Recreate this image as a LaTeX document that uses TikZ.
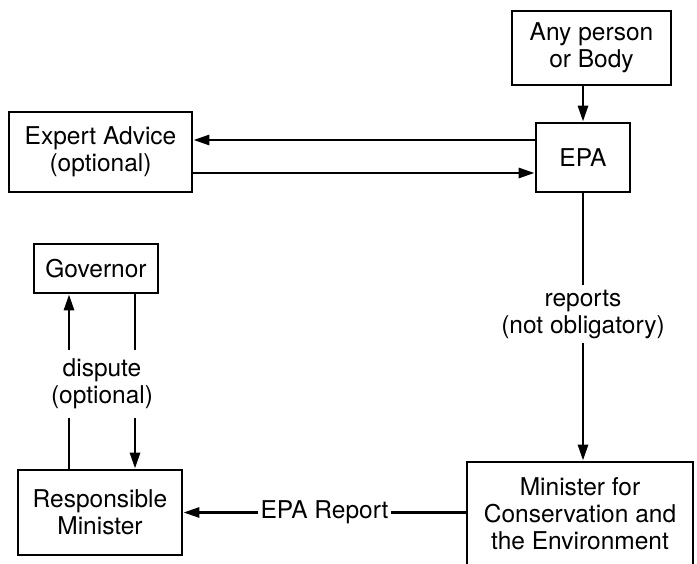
\documentclass[tikz,border=0pt]{standalone}
\usepackage{fontspec}
\setmainfont{TeX Gyre Heros}
\usetikzlibrary{arrows.meta,calc}
\begin{document}
\begin{tikzpicture}[x=1pt,y=-1pt,
  every node/.style={font=\fontsize{24.5}{27}\selectfont, align=center},
  box/.style={draw, line width=2.8pt, inner sep=0pt},
  conn/.style={line width=2.8pt},
  arr/.style={conn, -{Triangle[length=16pt,width=10pt]}}]
\useasboundingbox (0,0) rectangle (697,564);
\clip (0,0) rectangle (697,564);
\fill[white] (0,0) rectangle (697,564);

% boxes
\node[box, minimum width=159pt, minimum height=74pt] (any) at (591.5,48) {Any person\\or Body};
\node[box, minimum width=94pt, minimum height=69pt] (epa) at (583,157.5) {EPA};
\node[box, minimum width=183pt, minimum height=80pt] (exp) at (100.5,152) {Expert Advice\\(optional)};
\node[box, minimum width=124pt, minimum height=49pt] (gov) at (96,268.5) {Governor};
\node[box, minimum width=164pt, minimum height=85pt] (resp) at (100,512.5) {Responsible\\Minister};
\node[box, minimum width=226pt, minimum height=104pt] (min) at (580,514) {Minister for\\Conservation and\\the Environment};

% line labels
\node[inner ysep=4.5pt] (rep) at (583,314) {reports\\(not obligatory)};
\node[inner ysep=8.5pt] (dis) at (102,384) {dispute\\(optional)};

% complaint to EPA
\draw[arr] (epa.north |- any.south) -- (epa.north);

% EPA <-> expert advice
\coordinate (t1) at ([yshift=12pt]exp.east);
\coordinate (t2) at ([yshift=-21pt]exp.east);
\draw[arr] (t1 -| epa.west) -- (t1);
\draw[arr] (t2) -- (t2 -| epa.west);

% EPA reports to the Minister
\draw[conn] (epa.south) -- (rep.north);
\draw[arr] (rep.south) -- (rep.south |- min.north);

% dispute between Responsible Minister and Governor
\coordinate (gl) at ([xshift=-27pt]gov.south);
\coordinate (gr) at ([xshift=39pt]gov.south);
\draw[conn] (gl |- resp.north) -- (gl |- dis.south);
\draw[arr] (gl |- dis.north) -- (gl);
\draw[conn] (gr) -- (gr |- dis.north);
\draw[arr] (gr |- dis.south) -- (gr |- resp.north);

% EPA report passed on
\draw[arr] (min.west |- resp.east) -- node[fill=white, inner xsep=3pt, inner ysep=0pt] (epr) {EPA Report} (resp.east);
\end{tikzpicture}
\end{document}
